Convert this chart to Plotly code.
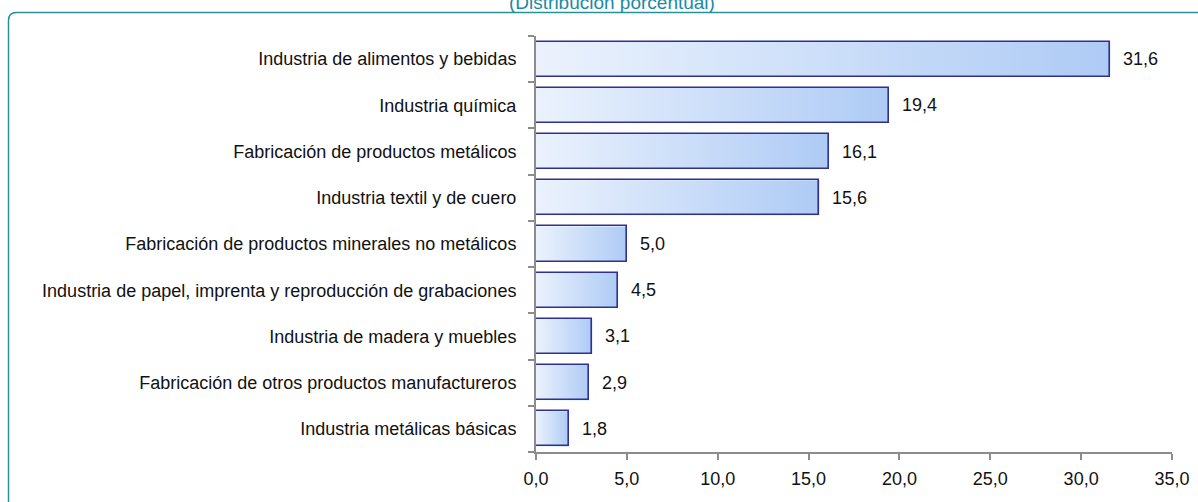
import plotly.graph_objects as go

# datos: distribución porcentual por rama industrial
ramas = [
    "Industria de alimentos y bebidas",
    "Industria química",
    "Fabricación de productos metálicos",
    "Industria textil y de cuero",
    "Fabricación de productos minerales no metálicos",
    "Industria de papel, imprenta y reproducción de grabaciones",
    "Industria de madera y muebles",
    "Fabricación de otros productos manufactureros",
    "Industria metálicas básicas",
]
porcentaje = [31.6, 19.4, 16.1, 15.6, 5.0, 4.5, 3.1, 2.9, 1.8]
x_ticks = [0, 5, 10, 15, 20, 25, 30, 35]

FONT = "Liberation Sans Narrow, Arial Narrow, Liberation Sans, Arial, sans-serif"
GRIS = "#8c8c8c"
BORDE = "#2e3192"
TEAL = "#2a8f9c"
h = 0.38  # media altura de barra

pos = list(range(len(ramas)))

fig = go.Figure()

# relleno con degradado (una traza por barra)
for i, v in zip(pos, porcentaje):
    fig.add_trace(go.Scatter(
        x=[0, v, v, 0, 0],
        y=[i - h, i - h, i + h, i + h, i - h],
        mode="lines",
        line=dict(width=0),
        fill="toself",
        fillgradient=dict(type="horizontal",
                          colorscale=[[0, "#ebf2fd"], [1, "#aecbf5"]]),
        hoverinfo="skip",
        showlegend=False,
    ))

# contorno de barras + etiquetas de categoría (eje y2)
fig.add_trace(go.Bar(
    x=porcentaje, y=pos, orientation="h", width=2 * h,
    marker=dict(color="rgba(0,0,0,0)", line=dict(color=BORDE, width=1.6)),
    yaxis="y2", showlegend=False,
))

for i, v in zip(pos, porcentaje):
    fig.add_annotation(x=v, y=i, text=f"{v:.1f}".replace(".", ","),
                       showarrow=False, xanchor="left", xshift=11,
                       font=dict(size=18, color="#111111"))

# subtítulo, cortado por el borde superior como en el original
fig.add_annotation(text="(Distribución porcentual)", xref="paper", yref="paper",
                   x=0.1195, y=1.0493, xanchor="center", yanchor="bottom",
                   showarrow=False, font=dict(size=19, color="#1a8aa6"))

# marco redondeado
x0, x1 = -0.8294, 1.06
yt, yb = 1.0565, -0.16
dx, dy = 8 / 636, 8 / 416
fig.add_shape(type="path", xref="paper", yref="paper", layer="below",
              path=f"M {x0},{yb} L {x0},{yt - dy} Q {x0},{yt} {x0 + dx},{yt} L {x1},{yt}",
              line=dict(color=TEAL, width=1.5))

fig.update_layout(
    width=1198, height=502,
    margin=dict(l=536, r=26, t=36, b=50, autoexpand=False),
    paper_bgcolor="white", plot_bgcolor="white",
    separators=",.",
    font=dict(family=FONT, size=18, color="#111111"),
    bargap=0,
    xaxis=dict(range=[0, 35], tickvals=x_ticks, tickformat=".1f",
               ticks="outside", ticklen=6, tickwidth=1.5, tickcolor=GRIS,
               showline=True, linecolor=GRIS, linewidth=1.5, automargin=False,
               showgrid=False, zeroline=False, ticklabelstandoff=4),
    yaxis=dict(range=[8.5, -0.5], tickvals=[p - 0.5 for p in pos] + [8.5],
               showticklabels=False, ticks="outside", ticklen=6, tickwidth=1.5,
               tickcolor=GRIS, showline=True, linecolor=GRIS, linewidth=1.5,
               showgrid=False, zeroline=False, automargin=False),
    yaxis2=dict(range=[8.5, -0.5], overlaying="y", side="left",
                tickvals=pos, ticktext=ramas, ticks="outside", ticklen=15,
                tickcolor="rgba(0,0,0,0)", showline=False, showgrid=False,
                zeroline=False, automargin=False),
)

# sin margen del body, para que la figura ocupe la ventana desde (0, 0)
fig.write_html("out.html", config={"displayModeBar": False},
               post_script="document.body.style.margin = '0';")
